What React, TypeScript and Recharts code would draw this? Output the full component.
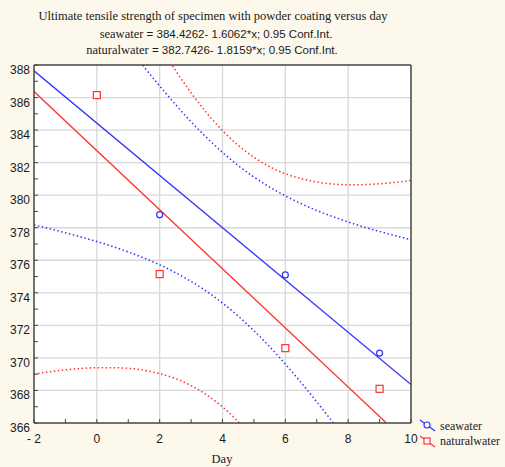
import { ComposedChart, Line, Scatter, XAxis, YAxis, CartesianGrid, Legend } from 'recharts'

// day grid the confidence bands are read at
const BAND_DAYS = [-2, -1.5, -1, -0.5, 0, 0.5, 1, 1.5, 2, 2.5, 3, 3.5, 4, 4.5, 5, 5.5, 6, 6.5, 7, 7.5, 8, 8.5, 9, 9.5, 10]
const SEA_UPPER = [397.11, 395.74, 394.38, 393.04, 391.7, 390.4, 389.13, 387.89, 386.71, 385.58, 384.51, 383.53, 382.63, 381.82, 381.12, 380.5, 379.96, 379.48, 379.06, 378.69, 378.35, 378.04, 377.77, 377.51, 377.26]
const SEA_LOWER = [378.17, 377.94, 377.69, 377.43, 377.15, 376.85, 376.51, 376.14, 375.72, 375.24, 374.7, 374.08, 373.37, 372.57, 371.67, 370.69, 369.62, 368.49, 367.3, 366.07, 364.8, 363.5, 362.16, 360.82, 359.46]
const NAT_UPPER = [403.74, 401.79, 399.85, 397.95, 396.09, 394.26, 392.5, 390.8, 389.19, 387.68, 386.29, 385.05, 383.97, 383.06, 382.33, 381.75, 381.32, 381.02, 380.81, 380.69, 380.64, 380.65, 380.7, 380.79, 380.9]
const NAT_LOWER = [369.01, 369.15, 369.26, 369.35, 369.4, 369.4, 369.36, 369.24, 369.03, 368.73, 368.3, 367.72, 366.99, 366.08, 365.0, 363.76, 362.37, 360.86, 359.25, 357.55, 355.78, 353.97, 352.1, 350.19, 348.26]

// fitted lines at the ends of the day axis
const FIT_DAYS = [-2, 10]
const SEA_FIT = [387.64, 368.36]
const NAT_FIT = [386.37, 364.58]

// measured points
const SEA_DAYS = [0, 2, 6, 9]
const SEA_VALUES = [386.15, 378.8, 375.1, 370.3]
const NAT_DAYS = [0, 2, 6, 9]
const NAT_VALUES = [386.15, 375.15, 370.6, 368.1]

const DAY_TICKS = [-2, -1, 0, 1, 2, 3, 4, 5, 6, 7, 8, 9, 10]
const STRENGTH_TICKS = [366, 367, 368, 369, 370, 371, 372, 373, 374, 375, 376, 377, 378, 379, 380, 381, 382, 383, 384, 385, 386, 387, 388]
const GRID_DAYS = [0, 2, 4, 6, 8]
const GRID_STRENGTH = [368, 370, 372, 374, 376, 378, 380, 382, 384, 386]

const BLUE = '#3232ff'
const RED = '#ff3232'
const SERIF = '"Liberation Serif", "Times New Roman", serif'
const SANS = '"Liberation Sans", Arial, sans-serif'
const AXIS = '#454545'

const bandData = BAND_DAYS.map((d, i) => ({
  day: d,
  seaUp: SEA_UPPER[i],
  seaLo: SEA_LOWER[i],
  natUp: NAT_UPPER[i],
  natLo: NAT_LOWER[i],
}))
const fitData = FIT_DAYS.map((d, i) => ({ day: d, sea: SEA_FIT[i], nat: NAT_FIT[i] }))
const seaPoints = SEA_DAYS.map((d, i) => ({ day: d, value: SEA_VALUES[i] }))
const natPoints = NAT_DAYS.map((d, i) => ({ day: d, value: NAT_VALUES[i] }))

const XTick = ({ x, y, payload }: any) => {
  const v = payload.value as number
  if (v % 2 !== 0) return null
  const label = v < 0 ? `- ${-v}` : String(v)
  return (
    <text x={x} y={y + 24} textAnchor="middle" fontFamily={SANS} fontSize={12} fill="#1a1a1a">
      {label}
    </text>
  )
}

const YTick = ({ x, y, payload }: any) => {
  const v = payload.value as number
  if (v % 2 !== 0) return null
  return (
    <text x={x - 8} y={y + 9} textAnchor="end" fontFamily={SANS} fontSize={12} fill="#1a1a1a">
      {v}
    </text>
  )
}

const CircleMark = ({ cx, cy }: any) => (
  <circle cx={cx} cy={cy} r={3} fill="#fff" stroke={BLUE} strokeWidth={1.2} />
)
const SquareMark = ({ cx, cy }: any) => (
  <rect x={cx - 3.5} y={cy - 3.5} width={7} height={7} fill="#fff" stroke={RED} strokeWidth={1.2} />
)

const LegendBox = () => (
  <svg width={95} height={45}>
    <line x1={10} y1={10} x2={25} y2={21} stroke={BLUE} strokeWidth={1.2} />
    <circle cx={17} cy={15} r={3} fill="#fff" stroke={BLUE} strokeWidth={1.2} />
    <text x={30} y={20} fontFamily={SERIF} fontSize={12} fill="#1a1a1a">seawater</text>
    <line x1={10} y1={26} x2={25} y2={37} stroke={RED} strokeWidth={1.2} />
    <rect x={14} y={28} width={6} height={6} fill="#fff" stroke={RED} strokeWidth={1.2} />
    <text x={30} y={35} fontFamily={SERIF} fontSize={12} fill="#1a1a1a">naturalwater</text>
  </svg>
)

export default function App() {
  return (
    <div style={{ position: 'fixed', left: 0, top: 0, width: 505, height: 467, background: '#fdf8ec' }}>
      <ComposedChart width={505} height={467} margin={{ top: 60, right: 89, bottom: 14, left: 4 }}>
        <CartesianGrid
          fill="#ffffff"
          stroke="#d8d8d8"
          strokeWidth={1.3}
          horizontalValues={GRID_STRENGTH}
          verticalValues={GRID_DAYS}
        />
        <XAxis
          dataKey="day"
          type="number"
          domain={[-2, 10]}
          ticks={DAY_TICKS}
          interval={0}
          allowDataOverflow
          height={30}
          tickSize={-4}
          tickMargin={0}
          tick={<XTick />}
          axisLine={{ stroke: AXIS, strokeWidth: 1.5 }}
          tickLine={{ stroke: AXIS }}
        />
        <XAxis
          xAxisId="top"
          orientation="top"
          type="number"
          domain={[-2, 10]}
          ticks={DAY_TICKS}
          interval={0}
          allowDataOverflow
          height={5}
          tickSize={-4}
          tick={false}
          axisLine={{ stroke: AXIS, strokeWidth: 1.5 }}
          tickLine={{ stroke: AXIS }}
        />
        <YAxis
          type="number"
          domain={[366, 388]}
          ticks={STRENGTH_TICKS}
          interval={0}
          allowDataOverflow
          width={30}
          tickSize={-4}
          tickMargin={0}
          tick={<YTick />}
          axisLine={{ stroke: AXIS, strokeWidth: 1.5 }}
          tickLine={{ stroke: AXIS }}
        />
        <YAxis
          yAxisId="right"
          orientation="right"
          type="number"
          domain={[366, 388]}
          ticks={STRENGTH_TICKS}
          interval={0}
          allowDataOverflow
          width={5}
          tickSize={-4}
          tick={false}
          axisLine={{ stroke: AXIS, strokeWidth: 1.5 }}
          tickLine={{ stroke: AXIS }}
        />

        <Line data={bandData} dataKey="seaUp" type="monotone" stroke={BLUE} strokeWidth={1.5} strokeDasharray="1.5 2.5" dot={false} legendType="none" isAnimationActive={false} />
        <Line data={bandData} dataKey="seaLo" type="monotone" stroke={BLUE} strokeWidth={1.5} strokeDasharray="1.5 2.5" dot={false} legendType="none" isAnimationActive={false} />
        <Line data={bandData} dataKey="natUp" type="monotone" stroke={RED} strokeWidth={1.5} strokeDasharray="1.5 2.5" dot={false} legendType="none" isAnimationActive={false} />
        <Line data={bandData} dataKey="natLo" type="monotone" stroke={RED} strokeWidth={1.5} strokeDasharray="1.5 2.5" dot={false} legendType="none" isAnimationActive={false} />
        <Line data={fitData} dataKey="sea" type="linear" stroke={BLUE} strokeWidth={1.3} dot={false} legendType="none" isAnimationActive={false} />
        <Line data={fitData} dataKey="nat" type="linear" stroke={RED} strokeWidth={1.3} dot={false} legendType="none" isAnimationActive={false} />

        <Scatter name="seawater" data={seaPoints} dataKey="value" shape={<CircleMark />} isAnimationActive={false} />
        <Scatter name="naturalwater" data={natPoints} dataKey="value" shape={<SquareMark />} isAnimationActive={false} />

        <Legend
          layout="horizontal"
          verticalAlign="middle"
          align="center"
          content={<LegendBox />}
          wrapperStyle={{ left: 410, top: 410, width: 95, height: 45 }}
        />
      </ComposedChart>

      <svg width={505} height={467} style={{ position: 'absolute', left: 0, top: 0, pointerEvents: 'none' }}>
        <text x={213} y={20} textAnchor="middle" fontFamily={SERIF} fontSize={12.5} fill="#1a1a1a">
          Ultimate tensile strength of specimen with powder coating versus day
        </text>
        <text x={216} y={38} textAnchor="middle" fill="#1a1a1a">
          <tspan fontFamily={SERIF} fontSize={12.5}>seawater</tspan>
          <tspan fontFamily={SANS} fontSize={11.5}> = 384.4262- 1.6062*x; 0.95 Conf.Int.</tspan>
        </text>
        <text x={212} y={54} textAnchor="middle" fill="#1a1a1a">
          <tspan fontFamily={SERIF} fontSize={12.5}>naturalwater</tspan>
          <tspan fontFamily={SANS} fontSize={11.5}> = 382.7426- 1.8159*x; 0.95 Conf.Int.</tspan>
        </text>
        <text x={222} y={463} textAnchor="middle" fontFamily={SERIF} fontSize={12.5} fill="#1a1a1a">
          Day
        </text>
      </svg>
    </div>
  )
}
